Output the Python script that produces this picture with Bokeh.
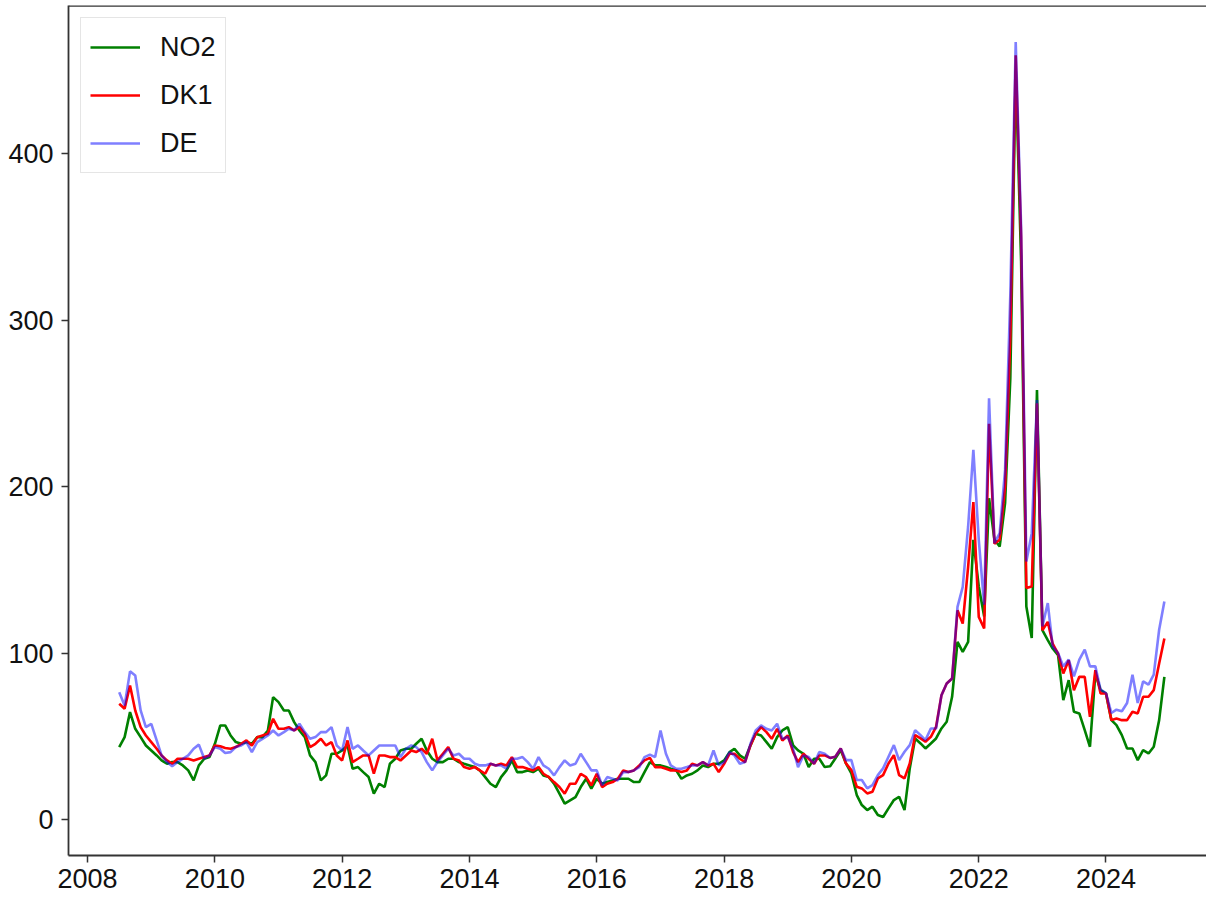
import pandas as pd
from bokeh.plotting import figure
from bokeh.models import Range1d, FixedTicker, DatetimeTickFormatter, Span
from bokeh.embed import file_html
from bokeh.resources import INLINE

# Monthly values, July 2008 .. December 2024
start_month = "2008-07-01"
n_months = 198

no2 = [
    43.5, 49.5, 64.5, 54.5, 49.5, 44.5,
    41.5, 38.5, 35.5, 33.5, 34.5, 34.5, 32.5, 29.5, 23.5, 32.5, 36.5, 37.5,
    45.5, 56.5, 56.5, 50.5, 46.5, 45.5, 46.5, 45.5, 49.5, 49.5, 53.5, 73.5,
    70.5, 65.5, 65.5, 58.5, 53.5, 49.5, 38.5, 34.5, 23.5, 26.5, 39.5, 39.5,
    41.5, 44.5, 30.5, 31.5, 28.5, 25.5, 15.5, 21.5, 19.5, 33.5, 36.5, 41.5,
    42.5, 42.5, 45.5, 48.5, 41.5, 36.5, 34.5, 34.5, 36.5, 36.5, 34.5, 33.5,
    32.5, 31.5, 29.5, 25.5, 21.5, 19.5, 25.5, 29.5, 35.5, 28.5, 28.5, 29.5,
    28.5, 30.5, 26.5, 25.5, 21.5, 15.5, 9.5, 11.5, 13.5, 19.5, 24.5, 18.5,
    24.5, 21.5, 22.5, 23.5, 24.5, 24.5, 24.5, 22.5, 22.5, 28.5, 34.5, 32.5,
    32.5, 31.5, 30.5, 29.5, 24.5, 26.5, 27.5, 29.5, 32.5, 31.5, 33.5, 33.5,
    35.5, 40.5, 42.5, 38.5, 36.5, 44.5, 51.5, 50.5, 46.5, 42.5, 49.5, 53.5,
    55.5, 44.5, 41.5, 39.5, 31.5, 36.5, 36.5, 31.5, 32.0, 36.7, 41.7, 33.7,
    27.7, 14.7, 8.7, 5.7, 7.7, 2.7, 1.5, 6.7, 11.7, 13.7, 5.7, 30.7,
    48.7, 45.7, 42.7, 45.7, 48.7, 54.7, 58.7, 73.7, 106.7, 100.7, 106.7, 168.0,
    140.0, 122.0, 193.0, 168.0, 164.0, 190.0, 265.0, 450.0, 335.0, 128.0, 109.0, 258.0,
    113.7, 107.7, 102.7, 98.7, 71.7, 83.7, 64.7, 63.7, 53.7, 43.7, 87.7, 77.7,
    75.7, 59.7, 56.7, 50.7, 42.7, 42.7, 35.7, 41.7, 39.7, 43.7, 59.7, 85.7,
]

dk1 = [
    69.5, 66.5, 80.5, 65.5, 55.5, 50.5,
    46.5, 42.5, 38.5, 35.5, 33.5, 36.5, 36.5, 36.5, 35.5, 36.5, 37.5, 38.5,
    44.5, 44.0, 43.0, 42.5, 43.5, 45.5, 47.5, 44.5, 49.5, 50.5, 51.5, 60.5,
    54.5, 54.5, 55.5, 53.5, 55.5, 51.5, 43.5, 45.5, 48.5, 44.5, 46.5, 38.5,
    35.5, 47.5, 34.5, 36.5, 38.5, 38.5, 27.5, 38.5, 38.5, 37.5, 37.5, 35.5,
    38.5, 41.5, 40.5, 42.5, 39.5, 48.5, 35.5, 39.5, 43.5, 36.5, 35.5, 31.5,
    30.5, 31.5, 29.5, 27.5, 33.5, 32.5, 33.5, 32.5, 37.5, 31.5, 31.5, 30.5,
    29.5, 31.5, 27.5, 25.5, 22.5, 19.5, 15.5, 21.5, 21.5, 27.5, 25.5, 20.5,
    27.5, 19.5, 21.5, 22.5, 24.5, 29.5, 28.5, 29.5, 32.5, 35.5, 37.0, 31.5,
    31.5, 30.5, 29.5, 29.5, 28.5, 29.5, 33.5, 32.5, 34.5, 32.5, 33.5, 28.5,
    33.5, 39.5, 39.5, 36.5, 34.5, 44.5, 51.5, 55.5, 52.5, 48.5, 54.5, 47.5,
    50.5, 40.5, 34.5, 39.5, 36.5, 33.5, 38.5, 38.5, 37.0, 37.7, 42.7, 33.7,
    29.7, 19.7, 18.7, 15.7, 16.7, 24.7, 26.7, 33.7, 38.7, 26.7, 24.7, 33.7,
    50.7, 48.7, 46.7, 49.7, 55.7, 74.7, 81.7, 84.7, 125.7, 117.7, 151.7, 190.7,
    121.7, 114.7, 237.7, 165.7, 168.0, 200.0, 290.0, 459.0, 350.0, 139.0, 140.0, 250.0,
    113.7, 118.7, 105.7, 99.7, 87.7, 95.7, 77.7, 85.7, 85.7, 61.7, 89.7, 75.7,
    75.7, 59.7, 60.7, 59.7, 59.7, 64.7, 63.7, 73.7, 73.7, 77.7, 93.7, 108.7,
]

de = [
    76.5, 68.5, 89.0, 86.5, 65.5, 55.5,
    57.5, 47.5, 38.5, 34.5, 32.0, 34.5, 36.5, 38.5, 42.5, 45.0, 36.5, 38.5,
    43.5, 42.5, 40.0, 40.5, 43.5, 44.5, 46.5, 40.5, 46.5, 48.5, 50.5, 53.5,
    50.5, 52.5, 54.5, 53.5, 57.5, 52.5, 48.5, 49.5, 52.5, 52.5, 55.5, 44.5,
    41.5, 55.5, 42.5, 44.5, 41.5, 38.5, 41.5, 44.5, 44.5, 44.5, 44.5, 37.5,
    42.5, 44.5, 43.5, 40.5, 34.5, 29.5, 34.5, 38.5, 42.5, 38.5, 39.5, 36.5,
    36.5, 33.5, 32.5, 32.5, 33.5, 32.5, 32.5, 30.5, 36.5, 36.5, 37.5, 34.5,
    30.5, 37.5, 32.5, 30.5, 26.5, 31.5, 35.5, 32.5, 33.5, 39.5, 34.5, 29.5,
    29.5, 20.5, 25.5, 24.5, 23.5, 28.5, 28.5, 29.5, 31.5, 37.5, 39.0, 37.5,
    53.5, 39.5, 32.5, 30.5, 30.5, 31.5, 32.5, 32.5, 34.5, 32.5, 41.5, 32.5,
    34.5, 40.5, 38.5, 33.5, 34.5, 45.5, 53.5, 56.5, 54.5, 53.5, 57.5, 48.5,
    49.5, 42.5, 31.5, 38.5, 37.5, 33.5, 40.5, 39.5, 37.0, 37.7, 42.7, 35.7,
    35.7, 23.7, 23.7, 18.7, 20.7, 26.7, 30.7, 37.7, 44.7, 35.7, 40.7, 44.7,
    53.7, 50.7, 47.7, 54.7, 54.7, 74.7, 81.7, 84.7, 127.7, 139.7, 176.0, 222.0,
    168.0, 129.0, 253.0, 166.0, 172.0, 210.0, 315.0, 467.0, 356.0, 155.0, 172.0, 252.0,
    116.0, 130.0, 104.0, 100.0, 92.0, 96.0, 86.0, 96.0, 102.0, 92.0, 92.0, 78.0,
    76.0, 64.0, 66.0, 65.0, 70.0, 87.0, 70.0, 83.0, 81.0, 87.0, 114.0, 131.0,
]

series_names = ["NO2", "DK1", "DE"]
tick_years = [2008, 2010, 2012, 2014, 2016, 2018, 2020, 2022, 2024]
y_ticks = [0, 100, 200, 300, 400]

dates = pd.date_range(start_month, periods=n_months, freq="MS")


def ms(ts):
    return pd.Timestamp(ts).value / 1e6


day = 86400000.0
x0 = ms("2008-01-01")
x_start = x0 - 109.0 * day
x_end = x0 + 6420.7 * day
y_top = 488.9
y_bottom = -21.6

FONT = "Liberation Sans"

p = figure(
    width=1206, height=905,
    x_axis_type="datetime",
    output_backend="svg", toolbar_location=None,
    min_border_left=68, min_border_right=0, min_border_top=5, min_border_bottom=50,
    x_range=Range1d(x_start, x_end),
    y_range=Range1d(y_bottom, y_top),
)
p.outline_line_color = None
p.grid.grid_line_color = None
p.background_fill_color = "white"

p.line(dates, no2, line_color="green", line_width=2.6, legend_label=series_names[0])
p.line(dates, dk1, line_color="red", line_width=2.6, legend_label=series_names[1])
p.line(dates, de, line_color="blue", line_alpha=0.5, line_width=2.6, legend_label=series_names[2])

p.xaxis.ticker = FixedTicker(ticks=[ms(f"{y}-01-01") for y in tick_years])
p.xaxis.formatter = DatetimeTickFormatter(
    years="%Y", months="%Y", days="%Y", hours="%Y", minutes="%Y",
    seconds="%Y", milliseconds="%Y", microseconds="%Y",
)
p.yaxis.ticker = FixedTicker(ticks=y_ticks)

for ax in (p.xaxis[0], p.yaxis[0]):
    ax.axis_line_color = "#333333"
    ax.axis_line_width = 1.8
    ax.major_tick_line_color = "#333333"
    ax.major_tick_line_width = 1.5
    ax.major_tick_out = 7
    ax.major_tick_in = 0
    ax.minor_tick_out = 0
    ax.minor_tick_in = 0
    ax.major_label_text_font = FONT
    ax.major_label_text_font_size = "27px"
    ax.major_label_text_color = "#111111"
p.xaxis.major_label_standoff = 6
p.yaxis.major_label_standoff = 8

p.add_layout(Span(location=y_top, dimension="width", line_color="#333333", line_width=2.5))

lg = p.legend[0]
lg.location = "top_left"
lg.margin = 12
lg.padding = 9
lg.spacing = 8
lg.label_height = 40
lg.glyph_height = 40
lg.glyph_width = 50
lg.label_standoff = 20
lg.label_text_font = FONT
lg.label_text_font_size = "27px"
lg.label_text_color = "#111111"
lg.border_line_color = "#cccccc"
lg.border_line_width = 1.5
lg.background_fill_alpha = 0.8

open("out.html", "w").write(file_html(p, INLINE))
